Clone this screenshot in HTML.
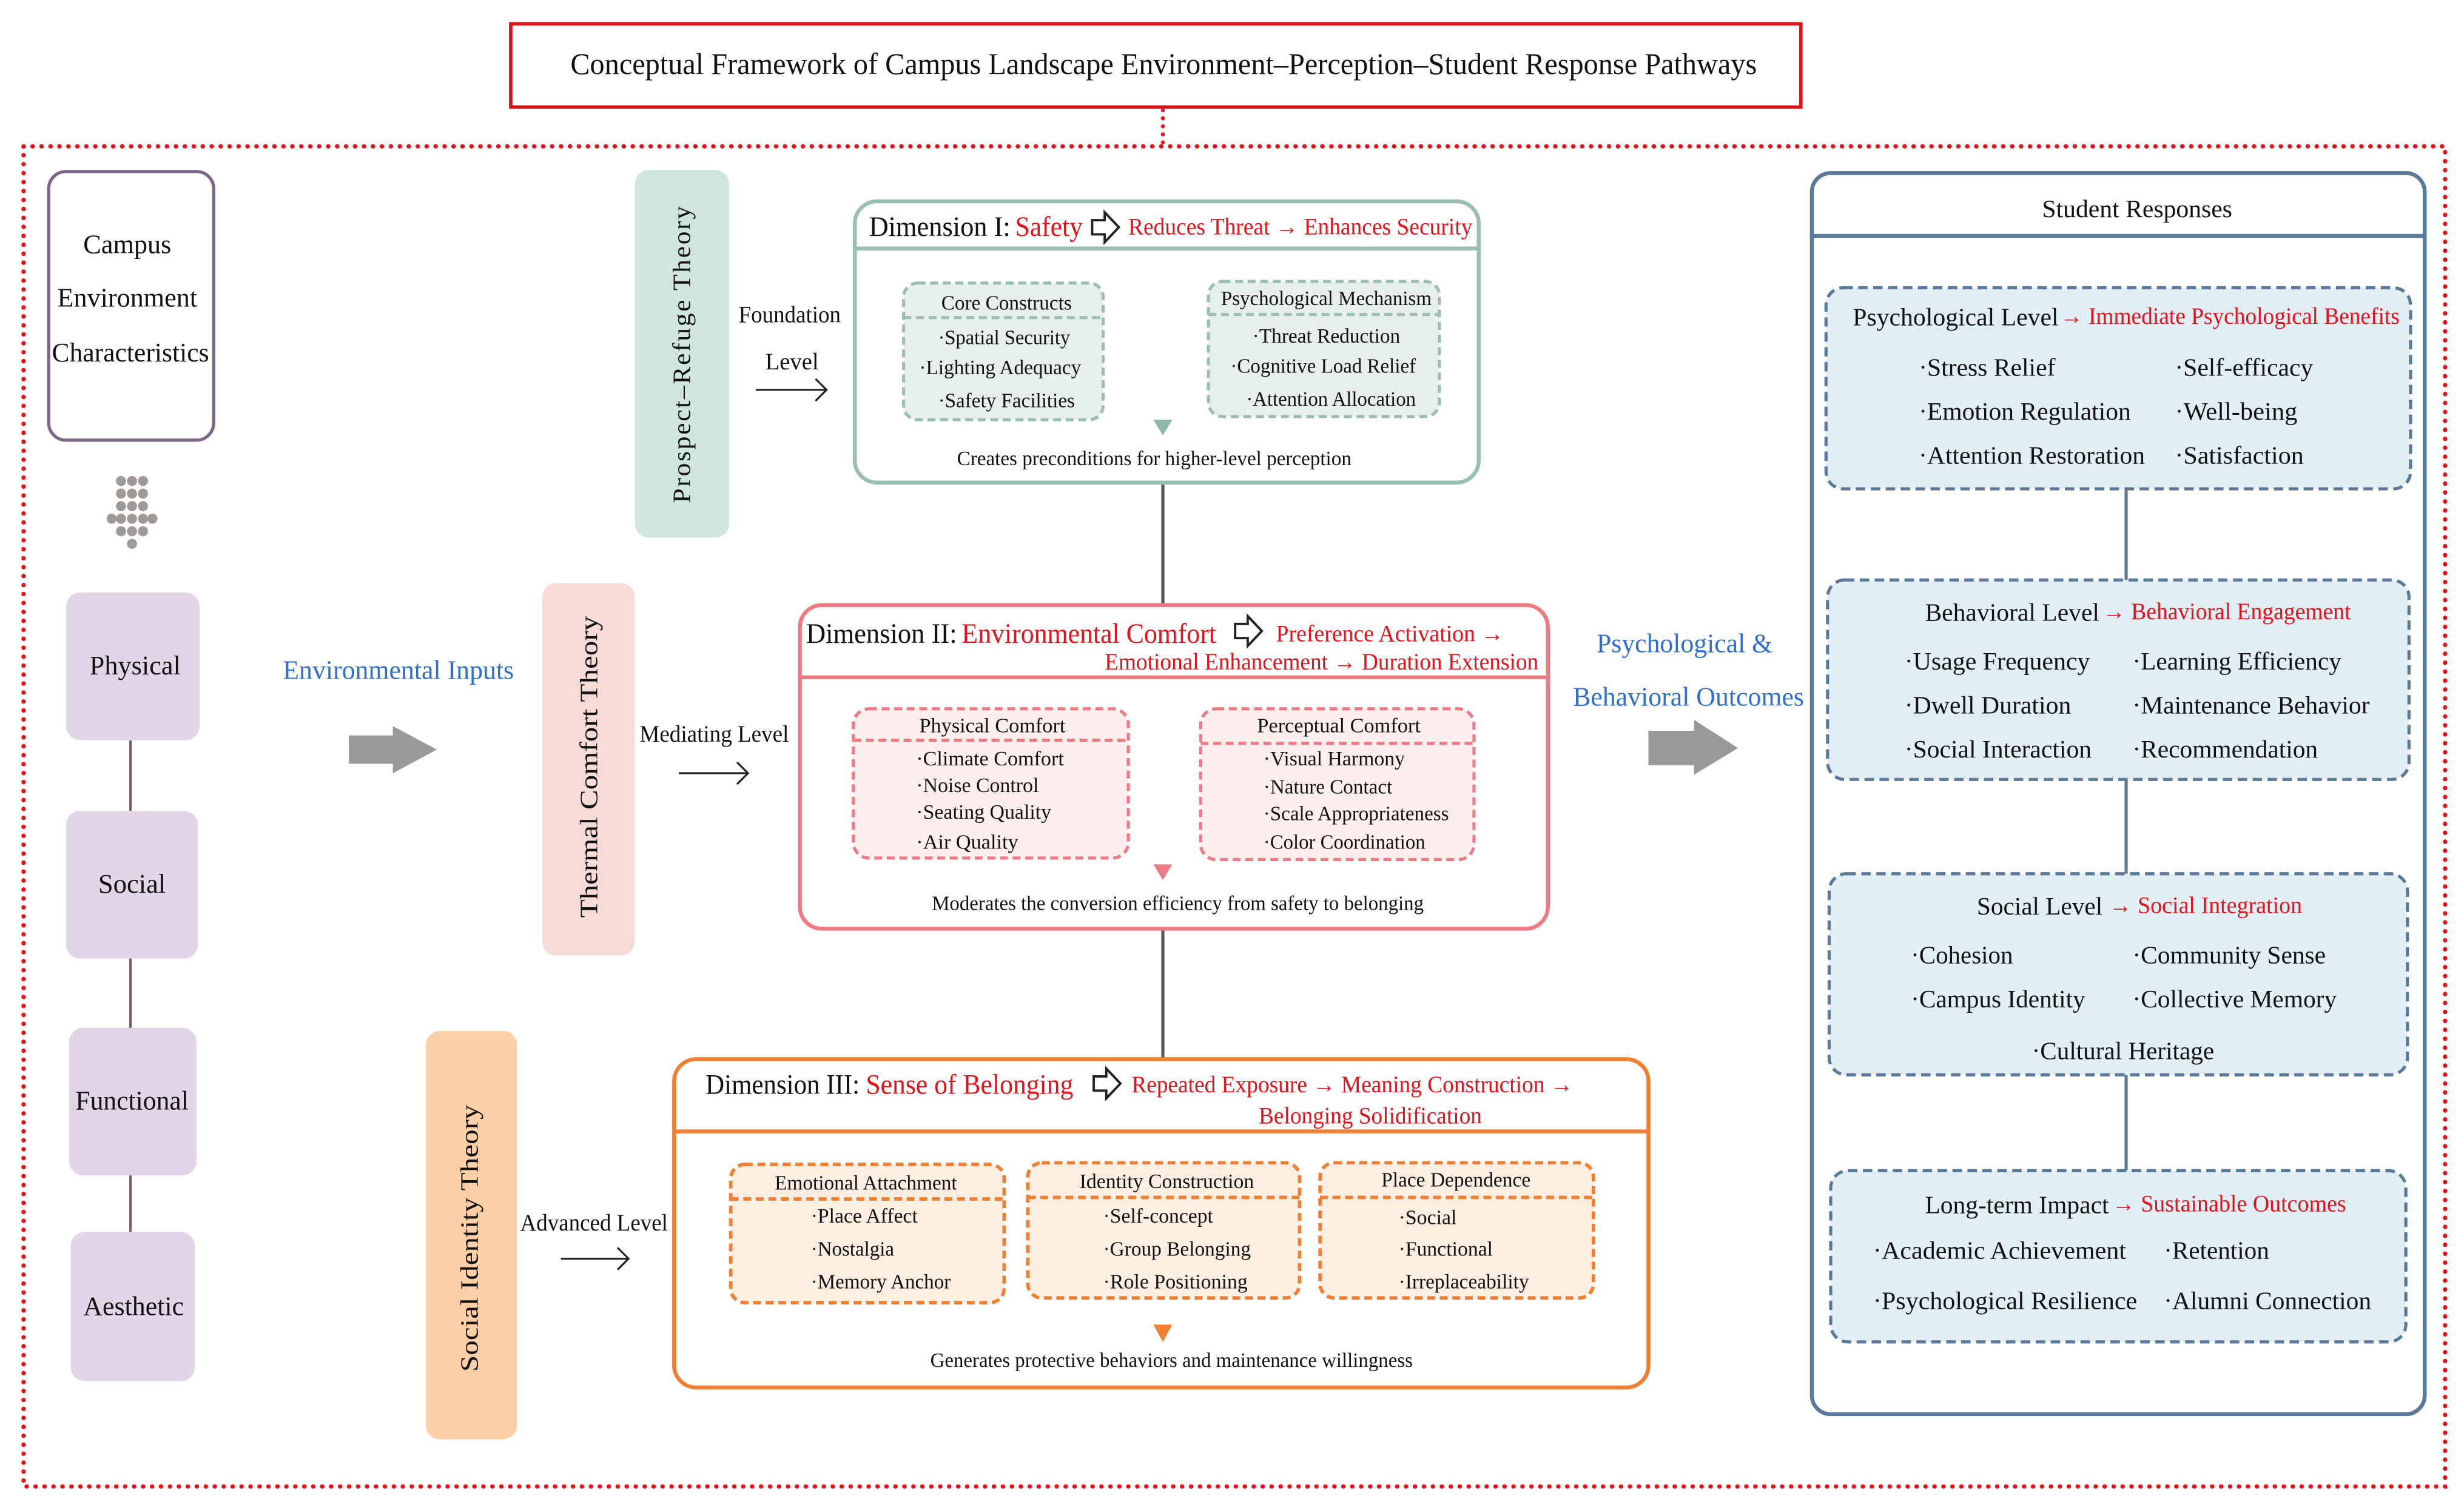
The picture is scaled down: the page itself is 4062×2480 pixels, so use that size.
<!DOCTYPE html>
<html><head><meta charset="utf-8"><style>
html,body{margin:0;padding:0;background:#fff}
svg{display:block}
text{font-family:"Liberation Serif",serif;fill:#111}
.r{fill:#e3121b}
.b{fill:#2f6fd0}
</style></head><body>
<svg width="4062" height="2480" viewBox="0 0 1568 957" xmlns="http://www.w3.org/2000/svg">
<rect width="1568" height="957" fill="#fff"/>
<rect x="325" y="15" width="821" height="53" fill="#fff" stroke="#d9141c" stroke-width="2.2"/>
<text x="363" y="47" font-size="19" textLength="755" lengthAdjust="spacingAndGlyphs">Conceptual Framework of Campus Landscape Environment–Perception–Student Response Pathways</text>
<line x1="740" y1="70" x2="740" y2="92" stroke="#e3121b" stroke-width="2.5" stroke-dasharray="0.1 5" stroke-linecap="round"/>
<rect x="15" y="93" width="1541" height="853" fill="none" stroke="#e3121b" stroke-width="2.8" stroke-dasharray="0.1 5.6" stroke-linecap="round"/>

<rect x="31" y="109" width="105" height="171" rx="11" fill="#fff" stroke="#7a6685" stroke-width="2"/>
<text x="81" y="161" font-size="17" text-anchor="middle" textLength="56" lengthAdjust="spacingAndGlyphs">Campus</text>
<text x="81" y="195" font-size="17" text-anchor="middle" textLength="89" lengthAdjust="spacingAndGlyphs">Environment</text>
<text x="83" y="230" font-size="17" text-anchor="middle" textLength="100" lengthAdjust="spacingAndGlyphs">Characteristics</text>
<g fill="#a09a96">
<circle cx="77" cy="306" r="3.2"/><circle cx="84" cy="306" r="3.2"/><circle cx="91" cy="306" r="3.2"/>
<circle cx="77" cy="314" r="3.2"/><circle cx="84" cy="314" r="3.2"/><circle cx="91" cy="314" r="3.2"/>
<circle cx="77" cy="322" r="3.2"/><circle cx="84" cy="322" r="3.2"/><circle cx="91" cy="322" r="3.2"/>
<circle cx="71" cy="330" r="3.2"/><circle cx="77" cy="330" r="3.2"/><circle cx="84" cy="330" r="3.2"/><circle cx="91" cy="330" r="3.2"/><circle cx="97" cy="330" r="3.2"/>
<circle cx="77" cy="338" r="3.2"/><circle cx="84" cy="338" r="3.2"/><circle cx="91" cy="338" r="3.2"/>
<circle cx="84" cy="346" r="3.2"/>
</g>
<line x1="83" y1="471" x2="83" y2="784" stroke="#6a5a6a" stroke-width="1.5"/>
<g fill="#e3d5e8">
<rect x="42" y="377" width="85" height="94" rx="9"/>
<rect x="42" y="516" width="84" height="94" rx="9"/>
<rect x="44" y="654" width="81" height="94" rx="9"/>
<rect x="45" y="784" width="79" height="95" rx="9"/>
</g>
<text x="86" y="429" font-size="17" text-anchor="middle" textLength="58" lengthAdjust="spacingAndGlyphs">Physical</text>
<text x="84" y="568" font-size="17" text-anchor="middle" textLength="43" lengthAdjust="spacingAndGlyphs">Social</text>
<text x="84" y="706" font-size="17" text-anchor="middle" textLength="72" lengthAdjust="spacingAndGlyphs">Functional</text>
<text x="85" y="837" font-size="17" text-anchor="middle" textLength="64" lengthAdjust="spacingAndGlyphs">Aesthetic</text>

<text x="180" y="432" font-size="17" class="b" textLength="147" lengthAdjust="spacingAndGlyphs">Environmental Inputs</text>
<polygon points="222,468 250,468 250,462 278,477 250,492 250,486 222,486" fill="#999"/>

<rect x="404" y="108" width="60" height="234" rx="9" fill="#d0e5dc"/>
<text transform="translate(439,225) rotate(-90)" font-size="16" text-anchor="middle" textLength="190" lengthAdjust="spacingAndGlyphs" letter-spacing="1">Prospect–Refuge Theory</text>
<rect x="345" y="371" width="59" height="237" rx="9" fill="#f7dbd7"/>
<text transform="translate(380,488) rotate(-90)" font-size="16" text-anchor="middle" textLength="192" lengthAdjust="spacingAndGlyphs">Thermal Comfort Theory</text>
<rect x="271" y="656" width="58" height="260" rx="9" fill="#fdcfa6"/>
<text transform="translate(304,788) rotate(-90)" font-size="16" text-anchor="middle" textLength="170" lengthAdjust="spacingAndGlyphs">Social Identity Theory</text>

<text x="470" y="205" font-size="15" textLength="65" lengthAdjust="spacingAndGlyphs">Foundation</text>
<text x="487" y="235" font-size="15" textLength="34" lengthAdjust="spacingAndGlyphs">Level</text>
<g stroke="#222" stroke-width="1.2" fill="none">
<path d="M481 248 H526 M519 241 L526 248 L519 255"/>
<path d="M432 492 H476 M469 485 L476 492 L469 499"/>
<path d="M357 801 H400 M393 794 L400 801 L393 808"/>
</g>
<text x="407" y="472" font-size="15" textLength="95" lengthAdjust="spacingAndGlyphs">Mediating Level</text>
<text x="331" y="783" font-size="15" textLength="94" lengthAdjust="spacingAndGlyphs">Advanced Level</text>

<line x1="740" y1="307" x2="740" y2="385" stroke="#555" stroke-width="2"/>
<line x1="740" y1="591" x2="740" y2="674" stroke="#555" stroke-width="2"/>

<rect x="544" y="128" width="397" height="179" rx="14" fill="#fff" stroke="#9bbfae" stroke-width="2.5"/>
<line x1="544" y1="158" x2="941" y2="158" stroke="#9bbfae" stroke-width="2.5"/>
<text x="553" y="150" font-size="18" textLength="90" lengthAdjust="spacingAndGlyphs">Dimension I:</text>
<text x="646" y="150" font-size="18" class="r" textLength="43" lengthAdjust="spacingAndGlyphs">Safety</text>
<path d="M695 140 H703 V135 L712 144.5 L703 154 V149 H695 Z" fill="#fff" stroke="#222" stroke-width="1.5"/>
<text x="718" y="149" font-size="15" class="r" textLength="219" lengthAdjust="spacingAndGlyphs">Reduces Threat → Enhances Security</text>
<g fill="#e6efec" stroke="#9bbfae" stroke-width="2" stroke-dasharray="5 3">
<rect x="575" y="180" width="127" height="87" rx="9"/>
<rect x="769" y="179" width="147" height="86" rx="9"/>
</g>
<g stroke="#9bbfae" stroke-width="2" stroke-dasharray="5 3"><line x1="575" y1="202" x2="702" y2="202"/><line x1="769" y1="200" x2="916" y2="200"/></g>
<g font-size="13">
<text x="599" y="197" textLength="83" lengthAdjust="spacingAndGlyphs">Core Constructs</text>
<text x="597" y="219" textLength="84" lengthAdjust="spacingAndGlyphs">·Spatial Security</text>
<text x="585" y="238" textLength="103" lengthAdjust="spacingAndGlyphs">·Lighting Adequacy</text>
<text x="597" y="259" textLength="87" lengthAdjust="spacingAndGlyphs">·Safety Facilities</text>
<text x="777" y="194" textLength="134" lengthAdjust="spacingAndGlyphs">Psychological Mechanism</text>
<text x="797" y="218" textLength="94" lengthAdjust="spacingAndGlyphs">·Threat Reduction</text>
<text x="783" y="237" textLength="118" lengthAdjust="spacingAndGlyphs">·Cognitive Load Relief</text>
<text x="793" y="258" textLength="108" lengthAdjust="spacingAndGlyphs">·Attention Allocation</text>
<text x="609" y="296" textLength="251" lengthAdjust="spacingAndGlyphs">Creates preconditions for higher-level perception</text>
</g>
<polygon points="734,267 746,267 740,277" fill="#8fb8a5"/>

<rect x="509" y="385" width="476" height="206" rx="14" fill="#fff" stroke="#ee7b84" stroke-width="2.5"/>
<line x1="509" y1="431" x2="985" y2="431" stroke="#ee7b84" stroke-width="2.5"/>
<text x="513" y="409" font-size="18" textLength="96" lengthAdjust="spacingAndGlyphs">Dimension II:</text>
<text x="612" y="409" font-size="18" class="r" textLength="162" lengthAdjust="spacingAndGlyphs">Environmental Comfort</text>
<path d="M786 397 H794 V392 L803 401.5 L794 411 V406 H786 Z" fill="#fff" stroke="#222" stroke-width="1.5"/>
<text x="812" y="408" font-size="15" class="r" textLength="145" lengthAdjust="spacingAndGlyphs">Preference Activation →</text>
<text x="703" y="426" font-size="15" class="r" textLength="276" lengthAdjust="spacingAndGlyphs">Emotional Enhancement → Duration Extension</text>
<g fill="#fdeeee" stroke="#ee7b84" stroke-width="2" stroke-dasharray="5 3">
<rect x="543" y="451" width="175" height="95" rx="10"/>
<rect x="764" y="451" width="174" height="96" rx="10"/>
</g>
<g stroke="#ee7b84" stroke-width="2" stroke-dasharray="5 3"><line x1="543" y1="471" x2="718" y2="471"/><line x1="764" y1="473" x2="938" y2="473"/></g>
<g font-size="13">
<text x="585" y="466" textLength="93" lengthAdjust="spacingAndGlyphs">Physical Comfort</text>
<text x="583" y="487" textLength="94" lengthAdjust="spacingAndGlyphs">·Climate Comfort</text>
<text x="583" y="504" textLength="78" lengthAdjust="spacingAndGlyphs">·Noise Control</text>
<text x="583" y="521" textLength="86" lengthAdjust="spacingAndGlyphs">·Seating Quality</text>
<text x="583" y="540" textLength="65" lengthAdjust="spacingAndGlyphs">·Air Quality</text>
<text x="800" y="466" textLength="104" lengthAdjust="spacingAndGlyphs">Perceptual Comfort</text>
<text x="804" y="487" textLength="90" lengthAdjust="spacingAndGlyphs">·Visual Harmony</text>
<text x="804" y="505" textLength="82" lengthAdjust="spacingAndGlyphs">·Nature Contact</text>
<text x="804" y="522" textLength="118" lengthAdjust="spacingAndGlyphs">·Scale Appropriateness</text>
<text x="804" y="540" textLength="103" lengthAdjust="spacingAndGlyphs">·Color Coordination</text>
<text x="593" y="579" textLength="313" lengthAdjust="spacingAndGlyphs">Moderates the conversion efficiency from safety to belonging</text>
</g>
<polygon points="734,550 746,550 740,560" fill="#ee7b84"/>

<rect x="429" y="674" width="620" height="209" rx="14" fill="#fff" stroke="#f07f33" stroke-width="2.5"/>
<line x1="429" y1="720" x2="1049" y2="720" stroke="#f07f33" stroke-width="2.5"/>
<text x="449" y="696" font-size="18" textLength="98" lengthAdjust="spacingAndGlyphs">Dimension III:</text>
<text x="551" y="696" font-size="18" class="r" textLength="132" lengthAdjust="spacingAndGlyphs">Sense of Belonging</text>
<path d="M696 685 H704 V680 L713 689.5 L704 699 V694 H696 Z" fill="#fff" stroke="#222" stroke-width="1.5"/>
<text x="720" y="695" font-size="15" class="r" textLength="281" lengthAdjust="spacingAndGlyphs">Repeated Exposure → Meaning Construction →</text>
<text x="801" y="715" font-size="15" class="r" textLength="142" lengthAdjust="spacingAndGlyphs">Belonging Solidification</text>
<g fill="#fdeee2" stroke="#f07f33" stroke-width="2.2" stroke-dasharray="5 3">
<rect x="465" y="741" width="174" height="88" rx="9"/>
<rect x="654" y="740" width="173" height="86" rx="9"/>
<rect x="840" y="740" width="174" height="86" rx="9"/>
</g>
<g stroke="#f07f33" stroke-width="2.2" stroke-dasharray="5 3"><line x1="465" y1="763" x2="639" y2="763"/><line x1="654" y1="762" x2="827" y2="762"/><line x1="840" y1="762" x2="1014" y2="762"/></g>
<g font-size="13">
<text x="493" y="757" textLength="116" lengthAdjust="spacingAndGlyphs">Emotional Attachment</text>
<text x="516" y="778" textLength="68" lengthAdjust="spacingAndGlyphs">·Place Affect</text>
<text x="516" y="799" textLength="53" lengthAdjust="spacingAndGlyphs">·Nostalgia</text>
<text x="516" y="820" textLength="89" lengthAdjust="spacingAndGlyphs">·Memory Anchor</text>
<text x="687" y="756" textLength="111" lengthAdjust="spacingAndGlyphs">Identity Construction</text>
<text x="702" y="778" textLength="70" lengthAdjust="spacingAndGlyphs">·Self-concept</text>
<text x="702" y="799" textLength="94" lengthAdjust="spacingAndGlyphs">·Group Belonging</text>
<text x="702" y="820" textLength="92" lengthAdjust="spacingAndGlyphs">·Role Positioning</text>
<text x="879" y="755" textLength="95" lengthAdjust="spacingAndGlyphs">Place Dependence</text>
<text x="890" y="779" textLength="37" lengthAdjust="spacingAndGlyphs">·Social</text>
<text x="890" y="799" textLength="60" lengthAdjust="spacingAndGlyphs">·Functional</text>
<text x="890" y="820" textLength="83" lengthAdjust="spacingAndGlyphs">·Irreplaceability</text>
<text x="592" y="870" textLength="307" lengthAdjust="spacingAndGlyphs">Generates protective behaviors and maintenance willingness</text>
</g>
<polygon points="734,843 746,843 740,854" fill="#f07f33"/>

<text x="1016" y="415" font-size="17" class="b" textLength="112" lengthAdjust="spacingAndGlyphs">Psychological &amp;</text>
<text x="1001" y="449" font-size="17" class="b" textLength="147" lengthAdjust="spacingAndGlyphs">Behavioral Outcomes</text>
<polygon points="1049,465 1078,465 1078,458 1106,476 1078,493 1078,487 1049,487" fill="#999"/>

<rect x="1153" y="110" width="390" height="790" rx="12" fill="#fff" stroke="#5b7a99" stroke-width="2.5"/>
<line x1="1153" y1="150" x2="1543" y2="150" stroke="#5b7a99" stroke-width="2.5"/>
<text x="1360" y="138" font-size="16" text-anchor="middle" textLength="121" lengthAdjust="spacingAndGlyphs">Student Responses</text>
<g stroke="#5b7a99" stroke-width="2"><line x1="1353" y1="311" x2="1353" y2="369"/><line x1="1353" y1="496" x2="1353" y2="556"/><line x1="1353" y1="684" x2="1353" y2="745"/></g>
<g fill="#e2eef5" stroke="#5b7a99" stroke-width="2" stroke-dasharray="6 3.5">
<rect x="1162" y="183" width="372" height="128" rx="11"/>
<rect x="1163" y="369" width="370" height="127" rx="11"/>
<rect x="1164" y="556" width="368" height="128" rx="11"/>
<rect x="1165" y="745" width="366" height="109" rx="11"/>
</g>
<g font-size="16">
<text x="1179" y="207" textLength="131" lengthAdjust="spacingAndGlyphs">Psychological Level</text>
<text x="1311" y="206" font-size="15" class="r" textLength="216" lengthAdjust="spacingAndGlyphs">→ Immediate Psychological Benefits</text>
<text x="1221" y="239" textLength="87" lengthAdjust="spacingAndGlyphs">·Stress Relief</text>
<text x="1221" y="267" textLength="135" lengthAdjust="spacingAndGlyphs">·Emotion Regulation</text>
<text x="1221" y="295" textLength="144" lengthAdjust="spacingAndGlyphs">·Attention Restoration</text>
<text x="1384" y="239" textLength="88" lengthAdjust="spacingAndGlyphs">·Self-efficacy</text>
<text x="1384" y="267" textLength="78" lengthAdjust="spacingAndGlyphs">·Well-being</text>
<text x="1384" y="295" textLength="82" lengthAdjust="spacingAndGlyphs">·Satisfaction</text>

<text x="1225" y="395" textLength="111" lengthAdjust="spacingAndGlyphs">Behavioral Level</text>
<text x="1338" y="394" font-size="15" class="r" textLength="158" lengthAdjust="spacingAndGlyphs">→ Behavioral Engagement</text>
<text x="1212" y="426" textLength="118" lengthAdjust="spacingAndGlyphs">·Usage Frequency</text>
<text x="1212" y="454" textLength="106" lengthAdjust="spacingAndGlyphs">·Dwell Duration</text>
<text x="1212" y="482" textLength="119" lengthAdjust="spacingAndGlyphs">·Social Interaction</text>
<text x="1357" y="426" textLength="133" lengthAdjust="spacingAndGlyphs">·Learning Efficiency</text>
<text x="1357" y="454" textLength="151" lengthAdjust="spacingAndGlyphs">·Maintenance Behavior</text>
<text x="1357" y="482" textLength="118" lengthAdjust="spacingAndGlyphs">·Recommendation</text>

<text x="1258" y="582" textLength="80" lengthAdjust="spacingAndGlyphs">Social Level</text>
<text x="1342" y="581" font-size="15" class="r" textLength="123" lengthAdjust="spacingAndGlyphs">→ Social Integration</text>
<text x="1216" y="613" textLength="65" lengthAdjust="spacingAndGlyphs">·Cohesion</text>
<text x="1216" y="641" textLength="111" lengthAdjust="spacingAndGlyphs">·Campus Identity</text>
<text x="1357" y="613" textLength="123" lengthAdjust="spacingAndGlyphs">·Community Sense</text>
<text x="1357" y="641" textLength="130" lengthAdjust="spacingAndGlyphs">·Collective Memory</text>
<text x="1293" y="674" textLength="116" lengthAdjust="spacingAndGlyphs">·Cultural Heritage</text>

<text x="1225" y="772" textLength="117" lengthAdjust="spacingAndGlyphs">Long-term Impact</text>
<text x="1344" y="771" font-size="15" class="r" textLength="149" lengthAdjust="spacingAndGlyphs">→ Sustainable Outcomes</text>
<text x="1192" y="801" textLength="161" lengthAdjust="spacingAndGlyphs">·Academic Achievement</text>
<text x="1377" y="801" textLength="67" lengthAdjust="spacingAndGlyphs">·Retention</text>
<text x="1192" y="833" textLength="168" lengthAdjust="spacingAndGlyphs">·Psychological Resilience</text>
<text x="1377" y="833" textLength="132" lengthAdjust="spacingAndGlyphs">·Alumni Connection</text>
</g>
</svg>
</body></html>
